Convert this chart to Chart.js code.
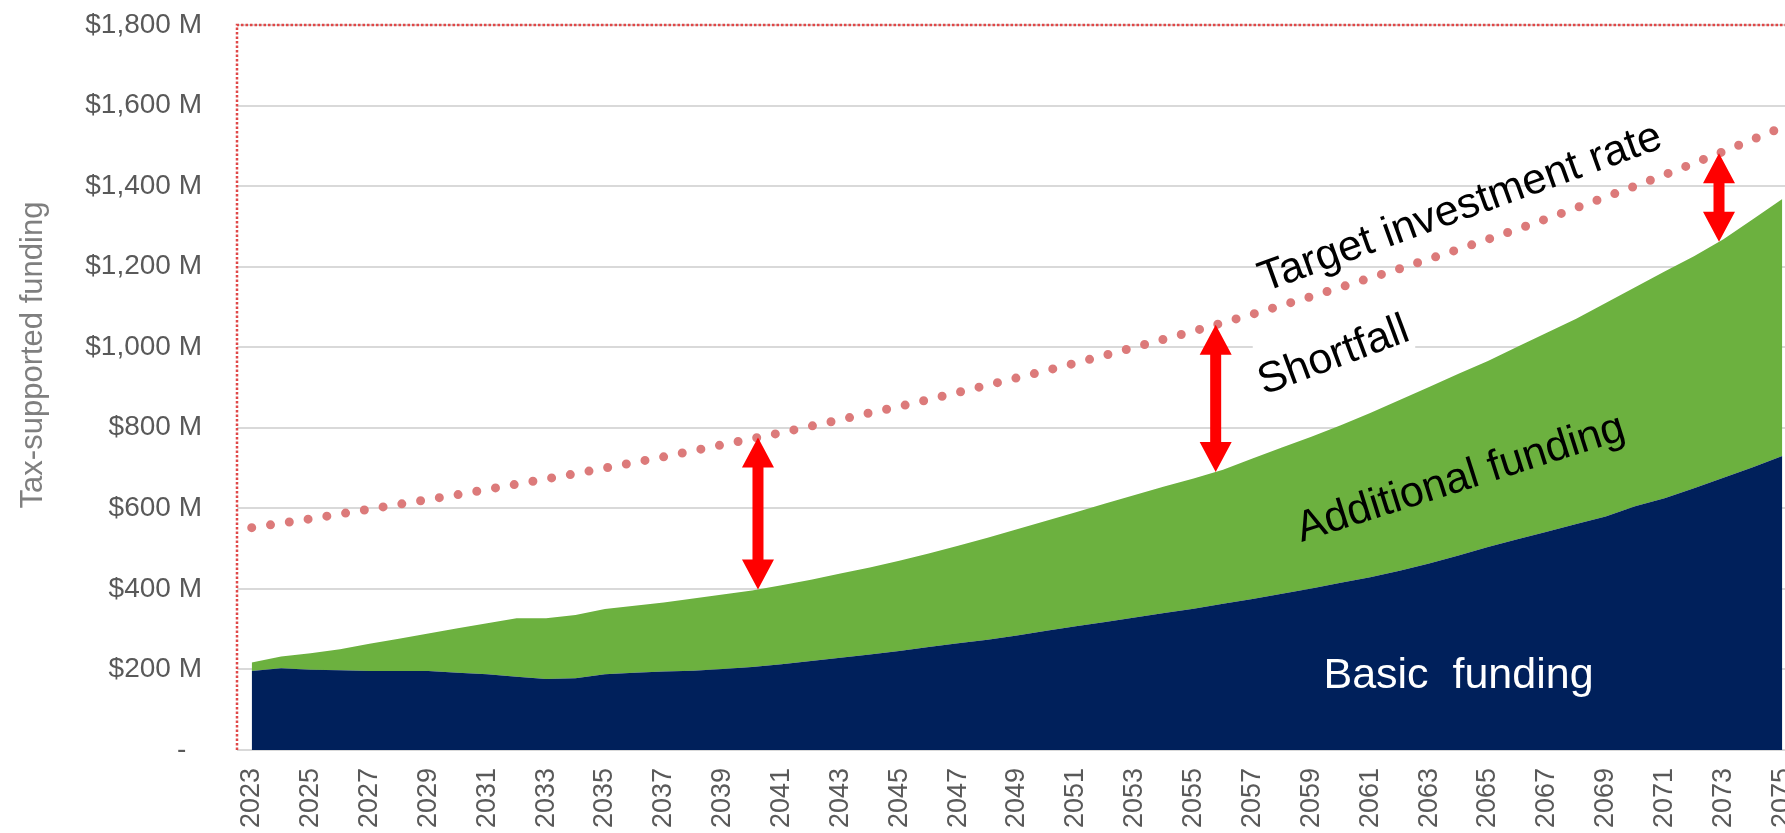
<!DOCTYPE html>
<html>
<head>
<meta charset="utf-8">
<script src="https://cdn.jsdelivr.net/npm/chart.js@4.4.1/dist/chart.umd.min.js"></script>
<style>
  html, body { margin: 0; padding: 0; background: #fff; overflow: hidden; }
</style>
</head>
<body>
<canvas id="fundingChart" width="1797" height="833"></canvas>
<script>
const years = [
  '2023', '2024', '2025', '2026', '2027', '2028', '2029', '2030', '2031', '2032',
  '2033', '2034', '2035', '2036', '2037', '2038', '2039', '2040', '2041', '2042',
  '2043', '2044', '2045', '2046', '2047', '2048', '2049', '2050', '2051', '2052',
  '2053', '2054', '2055', '2056', '2057', '2058', '2059', '2060', '2061', '2062',
  '2063', '2064', '2065', '2066', '2067', '2068', '2069', '2070', '2071', '2072',
  '2073', '2074', '2075'
];

// $M per year
const basicFunding = [
  196, 203, 199, 198, 196, 196, 196, 192, 188, 182,
  176, 178, 188, 192, 195, 197, 201, 206, 213, 221,
  229, 237, 246, 256, 265, 274, 284, 296, 307, 318,
  329, 340, 351, 363, 375, 388, 401, 415, 429, 445,
  463, 483, 504, 523, 542, 561, 580, 605, 625, 650,
  676, 702, 730
];

// basic + additional funding (top of the green area)
const totalFunding = [
  217, 232, 240, 250, 264, 276, 289, 302, 315, 327,
  327, 335, 350, 358, 366, 376, 386, 396, 409, 423,
  438, 453, 470, 488, 507, 527, 548, 569, 590, 612,
  633, 654, 674, 696, 724, 751, 778, 806, 837, 869,
  901, 934, 966, 1001, 1036, 1071, 1110, 1149, 1188, 1226,
  1268, 1318, 1368
];

const targetRate = [
  552, 563, 574, 586, 598, 610, 622, 634, 647, 660,
  673, 686, 700, 714, 728, 743, 758, 773, 788, 804,
  820, 837, 853, 870, 888, 906, 924, 942, 961, 980,
  1000, 1020, 1040, 1061, 1082, 1104, 1126, 1149, 1172, 1195,
  1219, 1243, 1268, 1293, 1319, 1346, 1373, 1400, 1428, 1457,
  1486, 1516, 1546
];

const yTickLabels = ['-', '$200 M', '$400 M', '$600 M', '$800 M', '$1,000 M', '$1,200 M', '$1,400 M', '$1,600 M', '$1,800 M'];

// where the shortfall arrows sit
const arrowYears = [2040.2, 2055.75, 2072.85];

const FONT = "'Liberation Sans', Arial, sans-serif";
const NOTE_FONT = '43px ' + FONT;

const notes = [
  { text: 'Target investment rate', year: 2064.2, value: 1317, angle: -19.9, color: '#000' },
  { text: 'Shortfall', year: 2059.9, value: 950, angle: -20.5, color: '#000', backdrop: true },
  { text: 'Additional funding', year: 2064.2, value: 645, angle: -17.6, color: '#000' },
  { text: 'Basic  funding', year: 2064.0, value: 154, angle: 0, color: '#fff' }
];

function valueAt(arr, idx) {
  const i = Math.floor(idx);
  if (i >= arr.length - 1) return arr[arr.length - 1];
  const t = idx - i;
  return arr[i] + (arr[i + 1] - arr[i]) * t;
}

function notePos(chart, n) {
  const x = chart.scales.x.getPixelForValue(n.year - Number(years[0]));
  const y = chart.scales.y.getPixelForValue(n.value);
  return { x, y };
}

const extras = {
  id: 'extras',
  beforeDatasetsDraw(chart) {
    // white box behind "Shortfall" hides the gridline
    const ctx = chart.ctx;
    notes.filter(n => n.backdrop).forEach(n => {
      const p = notePos(chart, n);
      ctx.save();
      ctx.font = NOTE_FONT;
      const w = ctx.measureText(n.text).width;
      const a = n.angle * Math.PI / 180;
      const pts = [[-w / 2, -32], [w / 2, -32], [w / 2, 10], [-w / 2, 10]].map(([px, py]) => [
        p.x + px * Math.cos(a) - py * Math.sin(a),
        p.y + px * Math.sin(a) + py * Math.cos(a)
      ]);
      const xs = pts.map(q => q[0]), ys = pts.map(q => q[1]);
      ctx.fillStyle = '#fff';
      ctx.fillRect(Math.min(...xs), Math.min(...ys), Math.max(...xs) - Math.min(...xs), Math.max(...ys) - Math.min(...ys));
      ctx.restore();
    });
  },
  afterDatasetsDraw(chart) {
    const ctx = chart.ctx;
    const area = chart.chartArea;
    const xs = chart.scales.x, ys = chart.scales.y;

    // red dotted frame (left and top)
    ctx.save();
    ctx.strokeStyle = '#e04848';
    ctx.lineWidth = 2.5;
    ctx.setLineDash([2.5, 2]);
    ctx.beginPath();
    ctx.moveTo(area.left, area.bottom);
    ctx.lineTo(area.left, area.top);
    ctx.lineTo(chart.width, area.top);
    ctx.stroke();
    ctx.restore();

    // double-headed arrows between target and funding
    ctx.save();
    ctx.fillStyle = '#ff0000';
    arrowYears.forEach(yr => {
      const idx = yr - Number(years[0]);
      const x = xs.getPixelForValue(idx);
      const yTop = ys.getPixelForValue(valueAt(targetRate, idx));
      const yBot = ys.getPixelForValue(valueAt(totalFunding, idx));
      const hw = 16, sw = 5.5, hl = 30;
      ctx.beginPath();
      ctx.moveTo(x, yTop);
      ctx.lineTo(x + hw, yTop + hl);
      ctx.lineTo(x + sw, yTop + hl);
      ctx.lineTo(x + sw, yBot - hl);
      ctx.lineTo(x + hw, yBot - hl);
      ctx.lineTo(x, yBot);
      ctx.lineTo(x - hw, yBot - hl);
      ctx.lineTo(x - sw, yBot - hl);
      ctx.lineTo(x - sw, yTop + hl);
      ctx.lineTo(x - hw, yTop + hl);
      ctx.closePath();
      ctx.fill();
    });
    ctx.restore();

    // text labels on the chart
    notes.forEach(n => {
      const p = notePos(chart, n);
      ctx.save();
      ctx.translate(p.x, p.y);
      ctx.rotate(n.angle * Math.PI / 180);
      ctx.font = NOTE_FONT;
      ctx.fillStyle = n.color;
      ctx.textAlign = 'center';
      ctx.textBaseline = 'alphabetic';
      ctx.fillText(n.text, 0, 0);
      ctx.restore();
    });

    // y axis title
    ctx.save();
    ctx.translate(33, 355);
    ctx.rotate(-Math.PI / 2);
    ctx.font = '31px ' + FONT;
    ctx.fillStyle = '#7f7f7f';
    ctx.textAlign = 'center';
    ctx.textBaseline = 'middle';
    ctx.fillText('Tax-supported funding', 0, 0);
    ctx.restore();
  }
};

const ctx = document.getElementById('fundingChart').getContext('2d');
const chart = new Chart(ctx, {
  type: 'line',
  data: {
    labels: years,
    datasets: [
      {
        label: 'Target investment rate',
        data: targetRate,
        borderColor: '#dc7a7a',
        borderWidth: 9,
        borderDash: [0, 19],
        borderCapStyle: 'round',
        pointRadius: 0,
        tension: 0,
        fill: false
      },
      {
        label: 'Basic funding',
        data: basicFunding,
        borderWidth: 0,
        pointRadius: 0,
        tension: 0,
        backgroundColor: '#00205b',
        fill: 'origin'
      },
      {
        label: 'Additional funding',
        data: totalFunding,
        borderWidth: 0,
        pointRadius: 0,
        tension: 0,
        backgroundColor: '#6cb13f',
        fill: '-1'
      }
    ]
  },
  options: {
    responsive: false,
    animation: false,
    layout: { padding: { top: 25, right: 0, bottom: 0, left: 0 } },
    plugins: {
      legend: { display: false },
      tooltip: { enabled: false }
    },
    scales: {
      x: {
        type: 'category',
        offset: true,
        grid: { display: false, drawTicks: false },
        border: { display: false },
        ticks: {
          autoSkip: false,
          minRotation: 90,
          maxRotation: 90,
          padding: 18,
          color: '#595959',
          font: { size: 27, family: FONT },
          callback: function (value, index) {
            return index % 2 === 0 ? years[index] : '';
          }
        },
        afterFit: function (scale) {
          scale.height = 83;
          scale.paddingLeft = 0;
          scale.paddingRight = 0;
        }
      },
      y: {
        min: 0,
        max: 1800,
        grid: { color: '#d9d9d9', lineWidth: 2, drawTicks: false },
        border: { display: false },
        ticks: {
          stepSize: 200,
          padding: 35,
          color: '#595959',
          font: { size: 28, family: FONT },
          callback: function (value, index) {
            return index === 0 ? yTickLabels[0] + '  ' : yTickLabels[index];
          }
        },
        afterFit: function (scale) {
          scale.width = 237;
          scale.paddingTop = 0;
          scale.paddingBottom = 0;
        }
      }
    }
  },
  plugins: [extras]
});
</script>
</body>
</html>
